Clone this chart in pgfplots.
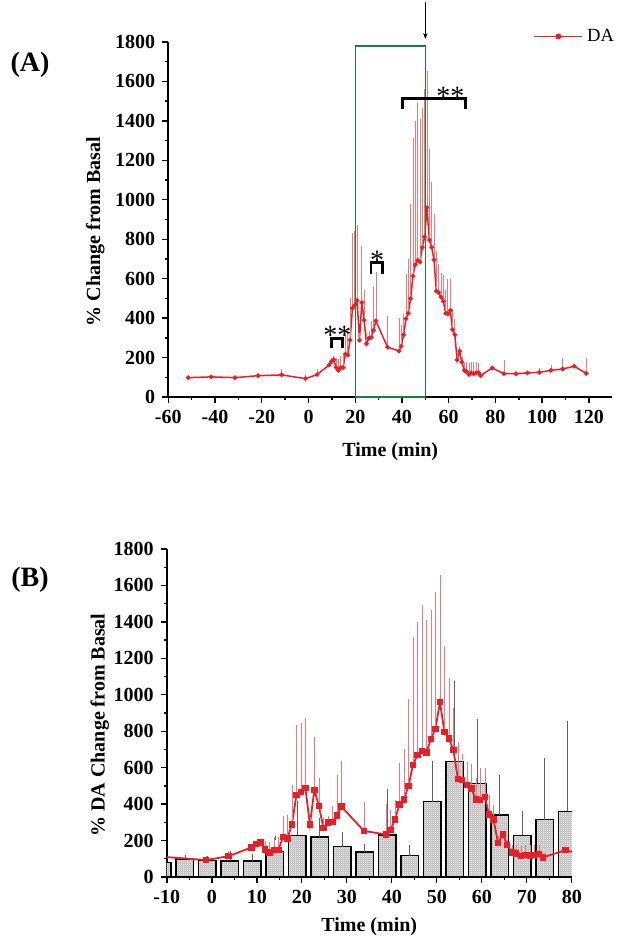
\documentclass[border=0pt]{standalone}
\usepackage{fontspec}
\setmainfont{Liberation Serif}
\usepackage{pgfplots}
\usepackage{pgfplotstable}
\pgfplotsset{compat=1.18}
\usetikzlibrary{arrows.meta,patterns.meta}

\definecolor{dared}{RGB}{234,30,38}
\definecolor{errred}{RGB}{238,120,120}
\definecolor{boxgreen}{RGB}{25,125,60}
\definecolor{bargray}{RGB}{228,228,228}

\tikzdeclarepattern{
  name=finegrid,
  type=uncolored,
  bottom left={(-0.1pt,-0.1pt)},
  top right={(1.1pt,1.1pt)},
  tile size={(1pt,1pt)},
  code={
    \draw[line width=0.2pt] (0pt,0pt) -- (1pt,0pt);
    \draw[line width=0.2pt] (0pt,0pt) -- (0pt,1pt);
  }
}

% time, % change, upper error
\pgfplotstableread{
x y ey
-51.5 98 0
-41.6 102 0
-31.5 98 0
-21.6 108 5
-11.5 112 20
-1.3 93 14
3.7 114 22
8.8 162 8
9.8 180 10
10.8 189 10
11.8 150 40
12.8 135 50
13.8 149 50
14.8 149 60
15.8 218 106
16.8 212 117
17.8 289 205
18.8 450 373
19.8 466 370
20.8 489 374
21.8 288 30
22.8 479 278
23.8 389 145
24.8 270 45
25.8 298 26
26.8 302 77
27.8 338 211
28.8 386 240
33.8 253 150
38.7 233 160
39.7 258 100
40.7 315 100
41.7 397 219
42.7 425 268
43.7 499 470
44.7 613 693
45.7 671 719
46.7 693 792
47.7 684 719
48.7 758 700
49.7 812 743
50.7 960 686
51.7 796 455
52.7 759 324
53.7 696 222
54.7 537 195
55.6 531 135
56.7 506 116
57.7 485 126
58.7 425 109
59.6 421 168
60.7 439 150
61.6 342 97
62.6 316 72
63.6 188 30
64.7 233 10
65.6 177 20
66.7 135 30
67.6 128 40
68.7 114 50
69.6 122 45
70.7 118 50
71.7 122 45
72.7 125 40
73.6 108 10
78.6 147 0
83.6 118 60
88.8 118 0
93.7 122 0
98.8 125 14
103.7 135 17
108.8 142 49
113.7 156 0
118.8 120 71
}\datab

% 5-min bins
\pgfplotstableread{
x y ey
-11 80 0
-6 99 14
-1 90 14
4 88 47
9 88 29
14 141 73
19 229 181
24 219 96
29 166 72
34 137 37
39 230 246
44 117 48
49 413 213
54 633 435
59 514 346
64 340 212
69 229 126
74 315 329
79 360 485
}\bins

\pgfplotsset{
  panel/.style={
    scale only axis,
    axis lines=left,
    axis line style={-, line width=0.9pt},
    tick align=outside,
    major tick length=3pt, minor tick length=1.6pt,
    every tick/.style={black, line width=0.7pt},
    ymin=0, ymax=1800, ytick={0,200,...,1800}, minor y tick num=1,
    ticklabel style={font=\bfseries\fontsize{10}{12}\selectfont},
    /pgf/number format/assume math mode=true,
    /pgf/number format/1000 sep={},
  },
  errs/.style={error bars/.cd, y dir=plus, y explicit,
    error bar style={errred, line width=0.3pt},
    error mark options={errred, mark size=0.8pt, line width=0.3pt}},
}

\begin{document}
\begin{tikzpicture}
\path[use as bounding box] (0pt,0pt) rectangle (311pt,473.5pt);

\node[font=\bfseries\fontsize{14}{14}\selectfont] at (15pt,441pt) {(A)};
\node[font=\bfseries\fontsize{14}{14}\selectfont] at (15pt,183.5pt) {(B)};

\begin{axis}[panel, at={(84.15pt,275pt)}, anchor=south west,
  width=222pt, height=177.5pt,
  xmin=-60, xmax=130, xtick={-60,-40,...,120}, minor x tick num=1,
  clip=false,
  xlabel={Time (min)}, ylabel={\% Change from Basal},
  every axis x label/.style={at={([yshift=-27.5pt]axis description cs:0.5,0)}, anchor=center,
    font=\bfseries\fontsize{10}{12}\selectfont},
  every axis y label/.style={at={([xshift=-36.5pt,yshift=-6pt]axis description cs:0,0.5)}, rotate=90, anchor=center,
    font=\bfseries\fontsize{10}{12}\selectfont},
  legend style={at={(axis cs:96.2,1828)}, anchor=west, draw=none, fill=none,
    inner sep=0pt, font=\fontsize{9.3}{10}\selectfont},
  legend image code/.code={\draw[dared, line width=0.7pt] (0pt,0pt) -- (24pt,0pt);
    \fill[dared] (12pt,0pt) circle (1.1pt);},
]
\addplot[dared, line width=0.75pt, mark=*, mark size=0.75pt, errs]
  table[x=x, y=y, y error=ey] {\datab};
\addlegendentry{DA}

\draw[boxgreen, line width=0.6pt] (axis cs:20,0) rectangle (axis cs:50,1780);
\draw[-{Stealth[length=3pt,width=2.2pt]}, line width=0.4pt] (axis cs:50,2005) -- (axis cs:50,1815);

\draw[line width=1.4pt] (axis cs:9.7,246) -- (axis cs:9.7,296) -- (axis cs:14.6,296) -- (axis cs:14.6,246);
\node[font=\fontsize{14}{14}\selectfont, anchor=base, inner sep=0pt] at (axis cs:12.4,268) {**};
\draw[line width=1.4pt] (axis cs:26.7,626) -- (axis cs:26.7,680) -- (axis cs:31.6,680) -- (axis cs:31.6,626);
\node[font=\fontsize{14}{14}\selectfont, anchor=base, inner sep=0pt] at (axis cs:29.4,648) {*};
\draw[line width=1.4pt] (axis cs:40.1,1459) -- (axis cs:40.1,1515) -- (axis cs:67.1,1515) -- (axis cs:67.1,1459);
\node[font=\fontsize{14}{14}\selectfont, anchor=base, inner sep=0pt] at (axis cs:60.7,1478) {**};
\end{axis}

\begin{axis}[panel, at={(83.4pt,35pt)}, anchor=south west,
  width=202.5pt, height=164pt,
  xmin=-10, xmax=80, xtick={-10,0,...,80}, minor x tick num=1,
  xlabel={Time (min)}, ylabel={\% DA Change from Basal},
  every axis x label/.style={at={([yshift=-25pt]axis description cs:0.5,0)}, anchor=center,
    font=\bfseries\fontsize{10}{12}\selectfont},
  every axis y label/.style={at={([xshift=-33.5pt,yshift=-6pt]axis description cs:0,0.5)}, rotate=90, anchor=center,
    font=\bfseries\fontsize{10}{12}\selectfont},
]
\addplot[ybar, bar width=3.9, fill=bargray, draw=black, line width=0.65pt,
  postaction={pattern=finegrid, pattern color=gray!45},
  error bars/.cd, y dir=plus, y explicit,
  error bar style={gray!75!black, line width=0.3pt},
  error mark options={gray!75!black, mark size=0.8pt, line width=0.3pt}]
  table[x=x, y=y, y error=ey] {\bins};
\addplot[dared, line width=0.9pt, mark=square*, mark size=1.15pt, errs]
  table[x=x, y=y, y error=ey] {\datab};
\end{axis}
\end{tikzpicture}
\end{document}
